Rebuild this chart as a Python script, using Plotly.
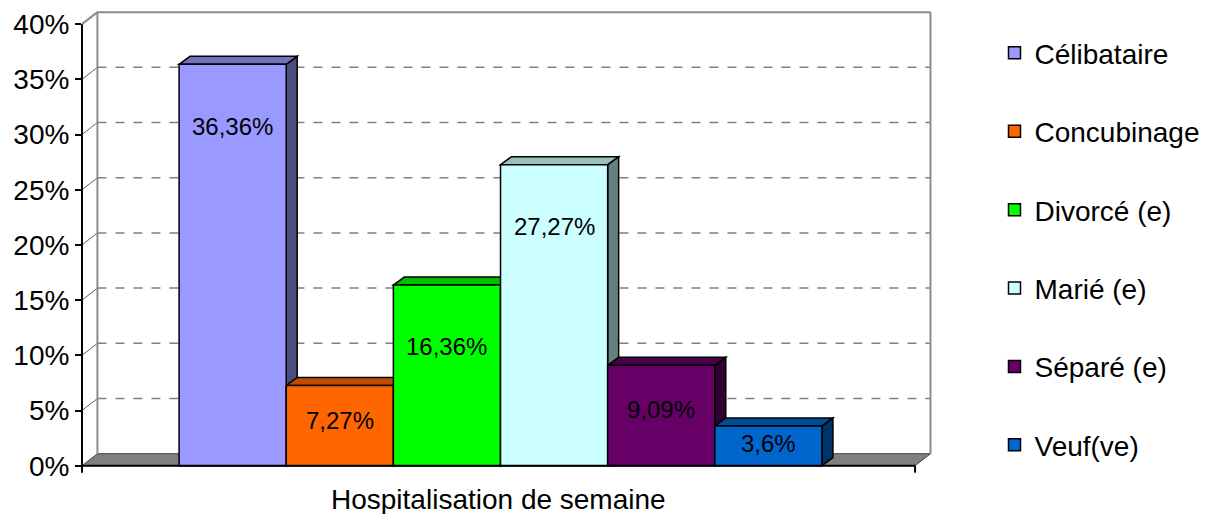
import plotly.graph_objects as go

# ---- data ----
CATEGORIES = ["Célibataire", "Concubinage", "Divorcé (e)", "Marié (e)", "Séparé (e)", "Veuf(ve)"]
VALUES = [36.36, 7.27, 16.36, 27.27, 9.09, 3.6]
LABELS = ["36,36%", "7,27%", "16,36%", "27,27%", "9,09%", "3,6%"]
COLORS = ["#9999FF", "#FF6600", "#00FF00", "#CCFFFF", "#660066", "#0066CC"]
TICK_VALS = [0, 5, 10, 15, 20, 25, 30, 35, 40]
TICK_LABELS = ["0%", "5%", "10%", "15%", "20%", "25%", "30%", "35%", "40%"]
X_TITLE = "Hospitalisation de semaine"

FONT = "Liberation Sans, Arial, sans-serif"

# ---- layout geometry (styling) ----
X_LEFT, X_RIGHT = -1.406, 6.369      # front plane extent on x
XR = [-1.406, 6.583]                  # x axis range
YR = [-0.933, 41.28]                  # y axis range
WALL_DX, WALL_DY = 0.144, 1.087       # depth offset of back wall
BAR_DX, BAR_DY = 0.1024, 0.725        # depth offset of the bars


def shade(hex_color, f):
    h = hex_color.lstrip("#")
    r, g, b = (int(h[i:i + 2], 16) for i in (0, 2, 4))
    return "#%02X%02X%02X" % (int(r * f), int(g * f), int(b * f))


def poly(pts):
    return "M " + " L ".join(f"{x},{y}" for x, y in pts) + " Z"


fig = go.Figure()
shapes = []

# floor
shapes.append(dict(type="path", xref="x", yref="y", layer="below",
                   path=poly([(X_LEFT, 0), (X_RIGHT, 0), (X_RIGHT + WALL_DX, WALL_DY), (X_LEFT + WALL_DX, WALL_DY)]),
                   fillcolor="#808080", line=dict(color="#404040", width=1)))
# back wall gridlines (dashed)
for v in TICK_VALS[1:-1]:
    shapes.append(dict(type="line", xref="x", yref="y", layer="below",
                       x0=X_LEFT + WALL_DX, x1=X_RIGHT + WALL_DX, y0=v + WALL_DY, y1=v + WALL_DY,
                       line=dict(color="#808080", width=1.5, dash="dash")))
# side-wall gridline stubs
for v in TICK_VALS[1:]:
    shapes.append(dict(type="line", xref="x", yref="y", layer="below",
                       x0=X_LEFT, x1=X_LEFT + WALL_DX, y0=v, y1=v + WALL_DY,
                       line=dict(color="#606060", width=1)))
# back wall frame
wall_col = dict(color="#8C8C8C", width=2)
shapes.append(dict(type="line", xref="x", yref="y", layer="below", x0=X_LEFT + WALL_DX, x1=X_LEFT + WALL_DX,
                   y0=WALL_DY, y1=40 + WALL_DY, line=wall_col))
shapes.append(dict(type="line", xref="x", yref="y", layer="below", x0=X_RIGHT + WALL_DX, x1=X_RIGHT + WALL_DX,
                   y0=WALL_DY, y1=40 + WALL_DY, line=wall_col))
shapes.append(dict(type="line", xref="x", yref="y", layer="below", x0=X_LEFT + WALL_DX, x1=X_RIGHT + WALL_DX,
                   y0=40 + WALL_DY, y1=40 + WALL_DY, line=wall_col))
shapes.append(dict(type="line", xref="x", yref="y", layer="below", x0=X_LEFT, x1=X_LEFT + WALL_DX,
                   y0=40, y1=40 + WALL_DY, line=wall_col))

# bar 3D faces (top and side), drawn beneath the bar traces
for i, (v, c) in enumerate(zip(VALUES, COLORS)):
    x0, x1 = i - 0.5, i + 0.5
    shapes.append(dict(type="path", xref="x", yref="y", layer="below",
                       path=poly([(x1, 0), (x1, v), (x1 + BAR_DX, v + BAR_DY), (x1 + BAR_DX, BAR_DY)]),
                       fillcolor=shade(c, 0.5), line=dict(color="black", width=1.5)))
    shapes.append(dict(type="path", xref="x", yref="y", layer="below",
                       path=poly([(x0, v), (x1, v), (x1 + BAR_DX, v + BAR_DY), (x0 + BAR_DX, v + BAR_DY)]),
                       fillcolor=shade(c, 0.75), line=dict(color="black", width=1.5)))

# front axes lines
shapes.append(dict(type="line", xref="x", yref="y", layer="above", x0=X_LEFT, x1=X_RIGHT, y0=0, y1=0,
                   line=dict(color="black", width=2)))
shapes.append(dict(type="line", xref="x", yref="y", layer="above", x0=X_RIGHT, x1=X_RIGHT, y0=0, y1=-0.63,
                   line=dict(color="black", width=2)))
shapes.append(dict(type="line", xref="paper", yref="y", layer="above", x0=0, x1=0, y0=-0.63, y1=40,
                   line=dict(color="black", width=2)))

# bars (front faces)
for i, (cat, v, c) in enumerate(zip(CATEGORIES, VALUES, COLORS)):
    fig.add_trace(go.Bar(x=[i], y=[v], name=cat, width=1, legendgroup=cat,
                         marker=dict(color=c, line=dict(color="black", width=1.5)),
                         hoverinfo="skip"))

annotations = []
for i, (v, lab) in enumerate(zip(VALUES, LABELS)):
    annotations.append(dict(x=i, y=max(v - 5.6, v * 0.56), xref="x", yref="y", text=lab, showarrow=False,
                            font=dict(family=FONT, size=24, color="black")))
annotations.append(dict(x=(X_LEFT + X_RIGHT) / 2, y=-0.933, xref="x", yref="y", yanchor="top", yshift=-6,
                        text=X_TITLE, showarrow=False, font=dict(family=FONT, size=28, color="black")))

# the page body adds an 8px margin, so the figure is 8px smaller each way
fig.update_layout(
    width=1199, height=506,
    margin=dict(l=74, r=267, t=2, b=38),
    paper_bgcolor="white", plot_bgcolor="white",
    font=dict(family=FONT, size=28, color="black"),
    shapes=shapes, annotations=annotations,
    barmode="overlay", showlegend=True,
    legend=dict(x=1.066, y=0.961, xanchor="left", yanchor="top", tracegroupgap=39,
                font=dict(family=FONT, size=28, color="black"), bgcolor="rgba(0,0,0,0)"),
    xaxis=dict(range=XR, showgrid=False, zeroline=False, showticklabels=False, showline=False, ticks=""),
    yaxis=dict(range=YR, showgrid=False, zeroline=False, showline=False,
               tickvals=TICK_VALS, ticktext=TICK_LABELS, ticks="outside", ticklen=6, tickwidth=2,
               tickcolor="black", tickfont=dict(family=FONT, size=28, color="black")),
)

fig.write_html("out.html")
